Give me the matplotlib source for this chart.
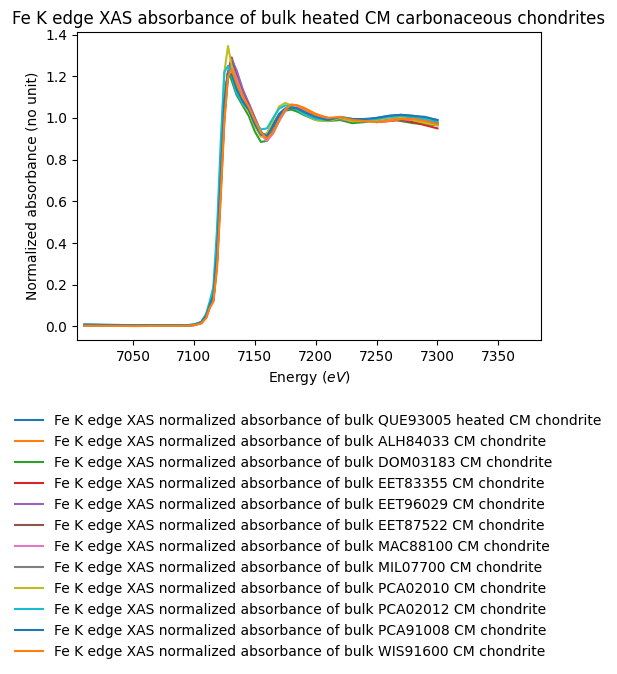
import matplotlib
matplotlib.use("Agg")
import matplotlib.pyplot as plt

energy = [7010, 7050, 7090, 7100, 7106, 7110, 7113, 7116, 7119, 7122, 7125, 7128,
          7131, 7135, 7140, 7145, 7150, 7155, 7160, 7165, 7170, 7175, 7180, 7185,
          7190, 7200, 7210, 7220, 7230, 7240, 7250, 7260, 7270, 7280, 7290, 7300]

samples = ["QUE93005 heated", "ALH84033", "DOM03183", "EET83355", "EET96029",
           "EET87522", "MAC88100", "MIL07700", "PCA02010", "PCA02012",
           "PCA91008", "WIS91600"]

que93005 = [0.010, 0.006, 0.005, 0.008, 0.02, 0.05, 0.10, 0.15, 0.36, 0.74, 1.10, 1.22,
            1.20, 1.14, 1.08, 1.04, 0.97, 0.92, 0.925, 0.97, 1.02, 1.045, 1.05, 1.04,
            1.025, 1.00, 0.99, 1.00, 0.99, 0.99, 1.00, 1.01, 1.015, 1.01, 1.00, 0.99]
alh84033 = [0.004, 0.002, 0.003, 0.006, 0.015, 0.04, 0.09, 0.12, 0.28, 0.62, 0.98, 1.20,
            1.24, 1.17, 1.10, 1.06, 0.99, 0.93, 0.90, 0.93, 0.99, 1.04, 1.06, 1.06,
            1.05, 1.02, 1.00, 1.00, 0.995, 0.99, 0.985, 0.99, 1.00, 1.00, 0.99, 0.975]
dom03183 = [0.005, 0.003, 0.004, 0.007, 0.018, 0.05, 0.10, 0.16, 0.38, 0.76, 1.10, 1.22,
            1.18, 1.11, 1.06, 1.01, 0.935, 0.885, 0.89, 0.94, 1.00, 1.035, 1.04, 1.03,
            1.015, 0.99, 0.985, 0.99, 0.975, 0.98, 0.99, 1.00, 0.985, 0.975, 0.97, 0.965]
eet83355 = [0.005, 0.003, 0.004, 0.007, 0.017, 0.045, 0.095, 0.13, 0.32, 0.68, 1.03, 1.22,
            1.29, 1.21, 1.13, 1.07, 1.00, 0.93, 0.90, 0.93, 0.99, 1.04, 1.06, 1.055,
            1.04, 1.01, 1.00, 0.995, 0.99, 0.99, 0.98, 0.985, 0.99, 0.98, 0.965, 0.95]
eet96029 = [0.005, 0.003, 0.004, 0.007, 0.017, 0.045, 0.095, 0.13, 0.31, 0.66, 1.01, 1.21,
            1.28, 1.23, 1.14, 1.07, 1.00, 0.935, 0.905, 0.935, 0.99, 1.035, 1.055, 1.05,
            1.035, 1.005, 0.995, 1.00, 0.99, 0.985, 0.985, 0.99, 0.995, 0.99, 0.98, 0.97]
eet87522 = [0.005, 0.003, 0.004, 0.007, 0.017, 0.045, 0.095, 0.13, 0.32, 0.67, 1.02, 1.21,
            1.27, 1.20, 1.12, 1.06, 0.99, 0.93, 0.905, 0.94, 0.995, 1.04, 1.055, 1.05,
            1.035, 1.005, 0.995, 1.00, 0.99, 0.985, 0.985, 0.99, 0.995, 0.995, 0.985, 0.975]
mac88100 = [0.005, 0.003, 0.004, 0.007, 0.017, 0.045, 0.095, 0.13, 0.31, 0.66, 1.01, 1.20,
            1.25, 1.19, 1.11, 1.05, 0.98, 0.92, 0.89, 0.925, 0.985, 1.035, 1.055, 1.055,
            1.04, 1.01, 0.995, 0.995, 0.985, 0.985, 0.985, 0.99, 0.995, 0.99, 0.98, 0.97]
mil07700 = [0.005, 0.003, 0.004, 0.007, 0.018, 0.048, 0.10, 0.14, 0.34, 0.70, 1.06, 1.21,
            1.24, 1.16, 1.09, 1.04, 0.97, 0.925, 0.91, 0.945, 1.00, 1.04, 1.05, 1.045,
            1.03, 1.00, 0.99, 0.995, 0.99, 0.985, 0.99, 1.00, 1.005, 1.00, 0.99, 0.975]
pca02010 = [0.005, 0.003, 0.004, 0.008, 0.02, 0.055, 0.11, 0.17, 0.42, 0.82, 1.22, 1.345,
            1.25, 1.15, 1.07, 1.03, 0.96, 0.91, 0.925, 0.99, 1.055, 1.072, 1.06, 1.04,
            1.02, 0.99, 0.985, 1.00, 0.985, 0.985, 0.99, 1.00, 1.005, 0.99, 0.975, 0.965]
pca02012 = [0.006, 0.004, 0.005, 0.009, 0.022, 0.06, 0.12, 0.19, 0.47, 0.88, 1.22, 1.25,
            1.20, 1.12, 1.07, 1.04, 0.985, 0.945, 0.95, 1.00, 1.045, 1.06, 1.055, 1.04,
            1.02, 0.995, 0.99, 1.005, 0.995, 0.99, 0.995, 1.005, 1.01, 1.005, 0.995, 0.985]
pca91008 = [0.008, 0.005, 0.005, 0.008, 0.02, 0.05, 0.10, 0.15, 0.35, 0.72, 1.08, 1.21,
            1.21, 1.14, 1.08, 1.04, 0.97, 0.92, 0.915, 0.96, 1.015, 1.045, 1.05, 1.045,
            1.03, 1.005, 0.99, 1.005, 0.995, 0.995, 1.00, 1.01, 1.015, 1.01, 1.005, 0.99]
wis91600 = [0.004, 0.002, 0.003, 0.006, 0.015, 0.04, 0.09, 0.12, 0.29, 0.63, 0.99, 1.20,
            1.23, 1.17, 1.10, 1.055, 0.99, 0.93, 0.90, 0.93, 0.99, 1.04, 1.065, 1.06,
            1.045, 1.015, 1.00, 1.005, 0.99, 0.985, 0.98, 0.985, 0.995, 0.995, 0.985, 0.97]

series = [que93005, alh84033, dom03183, eet83355, eet96029, eet87522,
          mac88100, mil07700, pca02010, pca02012, pca91008, wis91600]

fig = plt.figure(figsize=(6.17, 6.74), dpi=100)
ax = fig.add_axes([0.1248, 0.4955, 0.752, 0.457])

for name, vals in zip(samples, series):
    ax.plot(energy, vals,
            label=f"Fe K edge XAS normalized absorbance of bulk {name} CM chondrite")

ax.set_xlim(7004, 7385)
ax.set_xlabel("Energy ($eV$)")
ax.set_ylabel("Normalized absorbance (no unit)")
ax.set_title("Fe K edge XAS absorbance of bulk heated CM carbonaceous chondrites")

fig.legend(loc="upper center", bbox_to_anchor=(0.5, 0.404), frameon=False)

fig.savefig("out.png", dpi=100)
